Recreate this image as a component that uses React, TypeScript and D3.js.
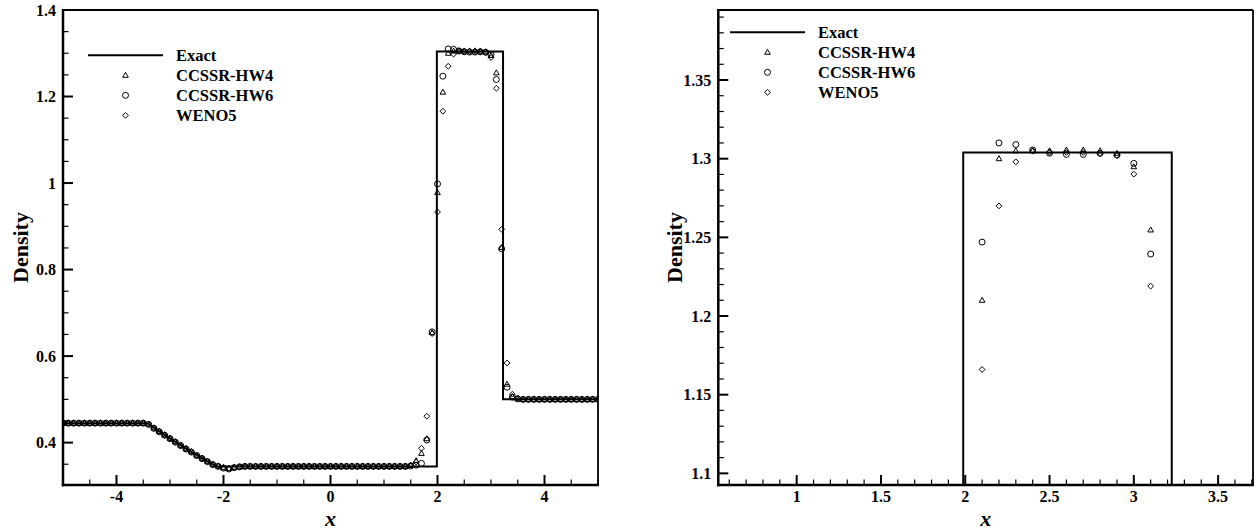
import React from "react";
import * as d3 from "d3";

// ---------------- DATA ----------------
const gridX = [
  -5.0, -4.9, -4.8, -4.7, -4.6, -4.5, -4.4, -4.3, -4.2, -4.1,
  -4.0, -3.9, -3.8, -3.7, -3.6, -3.5, -3.4, -3.3, -3.2, -3.1,
  -3.0, -2.9, -2.8, -2.7, -2.6, -2.5, -2.4, -2.3, -2.2, -2.1,
  -2.0, -1.9, -1.8, -1.7, -1.6, -1.5, -1.4, -1.3, -1.2, -1.1,
  -1.0, -0.9, -0.8, -0.7, -0.6, -0.5, -0.4, -0.3, -0.2, -0.1,
  0.0, 0.1, 0.2, 0.3, 0.4, 0.5, 0.6, 0.7, 0.8, 0.9,
  1.0, 1.1, 1.2, 1.3, 1.4, 1.5, 1.6, 1.7, 1.8, 1.9,
  2.0, 2.1, 2.2, 2.3, 2.4, 2.5, 2.6, 2.7, 2.8, 2.9,
  3.0, 3.1, 3.2, 3.3, 3.4, 3.5, 3.6, 3.7, 3.8, 3.9,
  4.0, 4.1, 4.2, 4.3, 4.4, 4.5, 4.6, 4.7, 4.8, 4.9, 5.0,
];

const hw4 = [
  0.445, 0.445, 0.445, 0.445, 0.445, 0.445, 0.445, 0.445, 0.445, 0.445,
  0.445, 0.445, 0.445, 0.445, 0.445, 0.445, 0.443, 0.434, 0.426, 0.418,
  0.410, 0.402, 0.394, 0.386, 0.379, 0.371, 0.364, 0.357, 0.350, 0.346,
  0.342, 0.340, 0.343, 0.344, 0.345, 0.345, 0.345, 0.345, 0.345, 0.345,
  0.345, 0.345, 0.345, 0.345, 0.345, 0.345, 0.345, 0.345, 0.345, 0.345,
  0.345, 0.345, 0.345, 0.345, 0.345, 0.345, 0.345, 0.345, 0.345, 0.345,
  0.345, 0.345, 0.345, 0.345, 0.345, 0.347, 0.358, 0.375, 0.409, 0.654,
  0.978, 1.210, 1.300, 1.305, 1.305, 1.305, 1.3055, 1.3055, 1.305, 1.3034,
  1.2949, 1.2547, 0.851, 0.535, 0.506, 0.501, 0.5, 0.5, 0.5, 0.5,
  0.5, 0.5, 0.5, 0.5, 0.5, 0.5, 0.5, 0.5, 0.5, 0.5, 0.5,
];

const hw6 = [
  0.445, 0.445, 0.445, 0.445, 0.445, 0.445, 0.445, 0.445, 0.445, 0.445,
  0.445, 0.445, 0.445, 0.445, 0.445, 0.445, 0.442, 0.433, 0.425, 0.417,
  0.409, 0.401, 0.393, 0.385, 0.378, 0.370, 0.363, 0.356, 0.349, 0.345,
  0.341, 0.339, 0.342, 0.344, 0.345, 0.345, 0.345, 0.345, 0.345, 0.345,
  0.345, 0.345, 0.345, 0.345, 0.345, 0.345, 0.345, 0.345, 0.345, 0.345,
  0.345, 0.345, 0.345, 0.345, 0.345, 0.345, 0.345, 0.345, 0.345, 0.345,
  0.345, 0.345, 0.345, 0.345, 0.345, 0.346, 0.348, 0.352, 0.406, 0.656,
  0.998, 1.247, 1.310, 1.309, 1.3055, 1.3035, 1.3027, 1.3027, 1.3034, 1.3023,
  1.297, 1.2394, 0.848, 0.528, 0.505, 0.501, 0.5, 0.5, 0.5, 0.5,
  0.5, 0.5, 0.5, 0.5, 0.5, 0.5, 0.5, 0.5, 0.5, 0.5, 0.5,
];

const weno5 = [
  0.445, 0.445, 0.445, 0.445, 0.445, 0.445, 0.445, 0.445, 0.445, 0.445,
  0.445, 0.445, 0.445, 0.445, 0.445, 0.445, 0.443, 0.434, 0.426, 0.418,
  0.410, 0.402, 0.394, 0.386, 0.379, 0.371, 0.364, 0.357, 0.350, 0.346,
  0.343, 0.341, 0.343, 0.344, 0.345, 0.345, 0.345, 0.345, 0.345, 0.345,
  0.345, 0.345, 0.345, 0.345, 0.345, 0.345, 0.345, 0.345, 0.345, 0.345,
  0.345, 0.345, 0.345, 0.345, 0.345, 0.345, 0.345, 0.345, 0.345, 0.345,
  0.345, 0.345, 0.345, 0.345, 0.345, 0.348, 0.355, 0.387, 0.461, 0.652,
  0.933, 1.166, 1.270, 1.298, 1.305, 1.304, 1.304, 1.304, 1.3034, 1.302,
  1.2902, 1.219, 0.893, 0.584, 0.512, 0.503, 0.5, 0.5, 0.5, 0.5,
  0.5, 0.5, 0.5, 0.5, 0.5, 0.5, 0.5, 0.5, 0.5, 0.5, 0.5,
];

const exactX = [-5, -3.42, -3.3, -3.2, -3.0, -2.8, -2.6, -2.4, -2.2, -2.12, 1.988, 1.988, 3.225, 3.225, 5];
const exactY = [0.445, 0.445, 0.4344, 0.4261, 0.4098, 0.3941, 0.3788, 0.364, 0.3496, 0.345, 0.345, 1.304, 1.304, 0.5, 0.5];

const seriesNames = ["Exact", "CCSSR-HW4", "CCSSR-HW6", "WENO5"];

const leftXTicks = [-4, -2, 0, 2, 4];
const leftYTicks = [0.4, 0.6, 0.8, 1, 1.2, 1.4];
const rightXTicks = [1, 1.5, 2, 2.5, 3, 3.5];
const rightYTicks = [1.1, 1.15, 1.2, 1.25, 1.3, 1.35];

// ---------------- RENDER ----------------
const FONT = '"Liberation Serif", "Times New Roman", Times, serif';

type MarkerKind = "tri" | "circ" | "diam";

function Marker({ kind, x, y }: { kind: MarkerKind; x: number; y: number }) {
  const common = { fill: "none", stroke: "#000", strokeWidth: 1 };
  if (kind === "circ") return <circle cx={x} cy={y} r={3} {...common} />;
  if (kind === "tri")
    return <path d={`M${x},${y - 3}L${x + 2.8},${y + 2}L${x - 2.8},${y + 2}Z`} {...common} />;
  return <path d={`M${x},${y - 2.9}L${x + 2.9},${y}L${x},${y + 2.9}L${x - 2.9},${y}Z`} {...common} />;
}

interface PanelProps {
  id: string;
  left: number;
  right: number;
  top: number;
  bottom: number;
  xDomain: [number, number];
  yDomain: [number, number];
  xTicks: number[];
  yTicks: number[];
  xMinorStep: number;
  yMinorStep: number;
  legendX: number;
  legendY: number;
  yTitleX: number;
}

function Panel(p: PanelProps) {
  const x = d3.scaleLinear().domain(p.xDomain).range([p.left, p.right]);
  const y = d3.scaleLinear().domain(p.yDomain).range([p.bottom, p.top]);
  const eps = 1e-9;
  const xMinor = d3
    .range(Math.ceil(p.xDomain[0] / p.xMinorStep - eps), Math.floor(p.xDomain[1] / p.xMinorStep + eps) + 1)
    .map((k) => +(k * p.xMinorStep).toFixed(6))
    .filter((v) => !p.xTicks.some((t) => Math.abs(t - v) < 1e-6));
  const yMinor = d3
    .range(Math.ceil(p.yDomain[0] / p.yMinorStep - eps), Math.floor(p.yDomain[1] / p.yMinorStep + eps) + 1)
    .map((k) => +(k * p.yMinorStep).toFixed(6))
    .filter((v) => !p.yTicks.some((t) => Math.abs(t - v) < 1e-6));

  const line = d3
    .line<number>()
    .x((_, i) => x(exactX[i]))
    .y((d) => y(d));

  const fmt = (v: number) => String(+v.toFixed(3));
  const series: { data: number[]; kind: MarkerKind }[] = [
    { data: hw4, kind: "tri" },
    { data: hw6, kind: "circ" },
    { data: weno5, kind: "diam" },
  ];
  const clipId = `clip-${p.id}`;
  const cx = (p.left + p.right) / 2;
  const cy = (p.top + p.bottom) / 2;

  return (
    <g>
      <defs>
        <clipPath id={clipId}>
          <rect x={p.left} y={p.top} width={p.right - p.left} height={p.bottom - p.top} />
        </clipPath>
      </defs>
      <g clipPath={`url(#${clipId})`}>
        <path d={line(exactY) || ""} fill="none" stroke="#000" strokeWidth={2} />
        {series.map((s, si) =>
          s.data.map((v, i) => {
            const xv = gridX[i];
            if (xv < p.xDomain[0] || xv > p.xDomain[1]) return null;
            if (v < p.yDomain[0] - 0.01 || v > p.yDomain[1] + 0.01) return null;
            return <Marker key={`${si}-${i}`} kind={s.kind} x={x(xv)} y={y(v)} />;
          })
        )}
      </g>
      {/* frame */}
      <line x1={p.left} x2={p.right} y1={p.top} y2={p.top} stroke="#000" strokeWidth={1.8} />
      <line x1={p.right} x2={p.right} y1={p.top} y2={p.bottom} stroke="#000" strokeWidth={1.8} />
      <line x1={p.left} x2={p.left} y1={p.top - 0.9} y2={p.bottom + 1.2} stroke="#000" strokeWidth={2.5} />
      <line x1={p.left - 1.2} x2={p.right + 0.9} y1={p.bottom} y2={p.bottom} stroke="#000" strokeWidth={2.5} />
      {/* x ticks */}
      {p.xTicks.map((t) => (
        <g key={`xt${t}`}>
          <line x1={x(t)} x2={x(t)} y1={p.bottom} y2={p.bottom - 10} stroke="#000" strokeWidth={2} />
          <text x={x(t)} y={p.bottom + 17} textAnchor="middle" fontFamily={FONT} fontWeight="bold" fontSize={16}>
            {fmt(t)}
          </text>
        </g>
      ))}
      {xMinor.map((t) => (
        <line key={`xm${t}`} x1={x(t)} x2={x(t)} y1={p.bottom} y2={p.bottom - 5.5} stroke="#000" strokeWidth={1.2} />
      ))}
      {/* y ticks */}
      {p.yTicks.map((t) => (
        <g key={`yt${t}`}>
          <line x1={p.left} x2={p.left + 10} y1={y(t)} y2={y(t)} stroke="#000" strokeWidth={2} />
          <text x={p.left - 7} y={y(t) + 5.5} textAnchor="end" fontFamily={FONT} fontWeight="bold" fontSize={16}>
            {fmt(t)}
          </text>
        </g>
      ))}
      {yMinor.map((t) => (
        <line key={`ym${t}`} x1={p.left} x2={p.left + 5.5} y1={y(t)} y2={y(t)} stroke="#000" strokeWidth={1.2} />
      ))}
      {/* titles */}
      <text
        transform={`translate(${p.yTitleX},${cy}) rotate(-90)`}
        textAnchor="middle"
        fontFamily={FONT}
        fontWeight="bold"
        fontSize={22}
      >
        Density
      </text>
      <text x={cx} y={p.bottom + 41} textAnchor="middle" fontFamily={FONT} fontWeight="bold" fontStyle="italic" fontSize={22}>
        x
      </text>
      {/* legend */}
      <g>
        <line x1={p.legendX} x2={p.legendX + 75} y1={p.legendY} y2={p.legendY} stroke="#000" strokeWidth={2} />
        {(["tri", "circ", "diam"] as MarkerKind[]).map((k, i) => (
          <Marker key={k} kind={k} x={p.legendX + 37.5} y={p.legendY + 20 * (i + 1)} />
        ))}
        {seriesNames.map((n, i) => (
          <text
            key={n}
            x={p.legendX + 88}
            y={p.legendY + 20 * i + 5.5}
            fontFamily={FONT}
            fontWeight="bold"
            fontSize={16.5}
          >
            {n}
          </text>
        ))}
      </g>
    </g>
  );
}

export default function App() {
  return (
    <svg
      width={1259}
      height={531}
      style={{ position: "absolute", left: 0, top: 0, background: "#fff" }}
    >
      <rect x={0} y={0} width={1259} height={531} fill="#fff" />
      <Panel
        id="left"
        left={63}
        right={598}
        top={10}
        bottom={485}
        xDomain={[-5, 5]}
        yDomain={[0.302, 1.4]}
        xTicks={leftXTicks}
        yTicks={leftYTicks}
        xMinorStep={0.5}
        yMinorStep={0.05}
        legendX={88}
        legendY={55.3}
        yTitleX={28}
      />
      <Panel
        id="right"
        left={718.3}
        right={1253}
        top={10}
        bottom={485}
        xDomain={[0.535, 3.707]}
        yDomain={[1.0926, 1.3945]}
        xTicks={rightXTicks}
        yTicks={rightYTicks}
        xMinorStep={0.1}
        yMinorStep={0.01}
        legendX={730}
        legendY={32.3}
        yTitleX={681.5}
      />
    </svg>
  );
}
